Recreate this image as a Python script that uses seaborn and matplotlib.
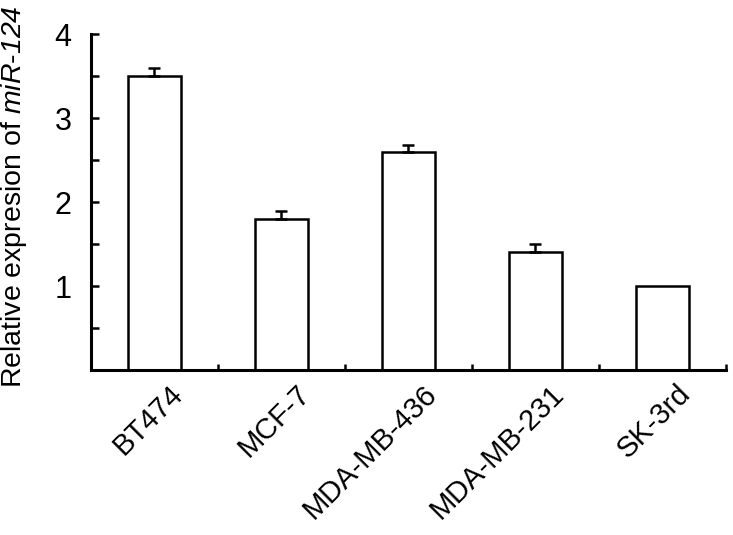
import matplotlib
matplotlib.use("Agg")
import matplotlib.pyplot as plt
import matplotlib.transforms as mtransforms
from matplotlib.ticker import FixedLocator
import pandas as pd
import seaborn as sns

# values
cell_lines = ["BT474", "MCF-7", "MDA-MB-436", "MDA-MB-231", "SK-3rd"]
expression = [3.5, 1.8, 2.6, 1.4, 1.0]
err_upper = [0.10, 0.09, 0.08, 0.10, 0.0]

df = pd.DataFrame({"line": cell_lines, "expr": expression, "err": err_upper})
df["pos"] = range(len(df))

sns.set_theme(style="ticks")
plt.rcParams["font.family"] = ["Liberation Sans", "DejaVu Sans"]
# only the y label uses mathtext: make its roman font the italic face
plt.rcParams["mathtext.fontset"] = "custom"
plt.rcParams["mathtext.rm"] = "Liberation Sans:italic"
plt.rcParams["mathtext.it"] = "Liberation Sans:italic"

fig = plt.figure(figsize=(7.33, 5.35), dpi=100)
ax = fig.add_axes([0.1241, 0.3084, 0.8663, 0.628])

sns.barplot(data=df, x="line", y="expr", color="white", edgecolor="black",
            linewidth=1.8, width=0.42, saturation=1, errorbar=None, ax=ax)

# upper error bars only
e = df[df["err"] > 0]
ax.errorbar(e["pos"], e["expr"], yerr=[[0] * len(e), e["err"]], fmt="none",
            ecolor="black", elinewidth=1.8, capsize=4.5, capthick=1.8, zorder=3)

ax.set_xlim(-0.5, 4.5)
ax.set_ylim(0, 4)
sns.despine(ax=ax)
for s in ["left", "bottom"]:
    ax.spines[s].set_linewidth(2.2)
    ax.spines[s].set_color("black")

ax.set_yticks([1, 2, 3, 4])
ax.yaxis.set_minor_locator(FixedLocator([0.5, 1.5, 2.5, 3.5]))
ax.tick_params(axis="y", which="both", direction="in", length=6, width=1.8,
               color="black", labelsize=22, pad=14, labelcolor="black")

ax.xaxis.set_minor_locator(FixedLocator([0.5, 1.5, 2.5, 3.5, 4.5]))
ax.tick_params(axis="x", which="minor", direction="in", length=4.5, width=1.8, color="black")
ax.tick_params(axis="x", which="major", length=0, labelsize=21, pad=7, labelcolor="black")

offset = mtransforms.ScaledTranslation(0.14, 0, fig.dpi_scale_trans)
for lbl in ax.get_xticklabels():
    lbl.set_rotation(45)
    lbl.set_ha("right")
    lbl.set_va("top")
    lbl.set_rotation_mode("anchor")
    lbl.set_transform(lbl.get_transform() + offset)

ax.set_xlabel("")
ax.set_ylabel(r"Relative expresion of $\mathrm{miR}$-$\mathrm{124}$", fontsize=20.5, color="black")
ax.yaxis.set_label_coords(-0.097, 0.515)

fig.savefig("out.png", dpi=100)
